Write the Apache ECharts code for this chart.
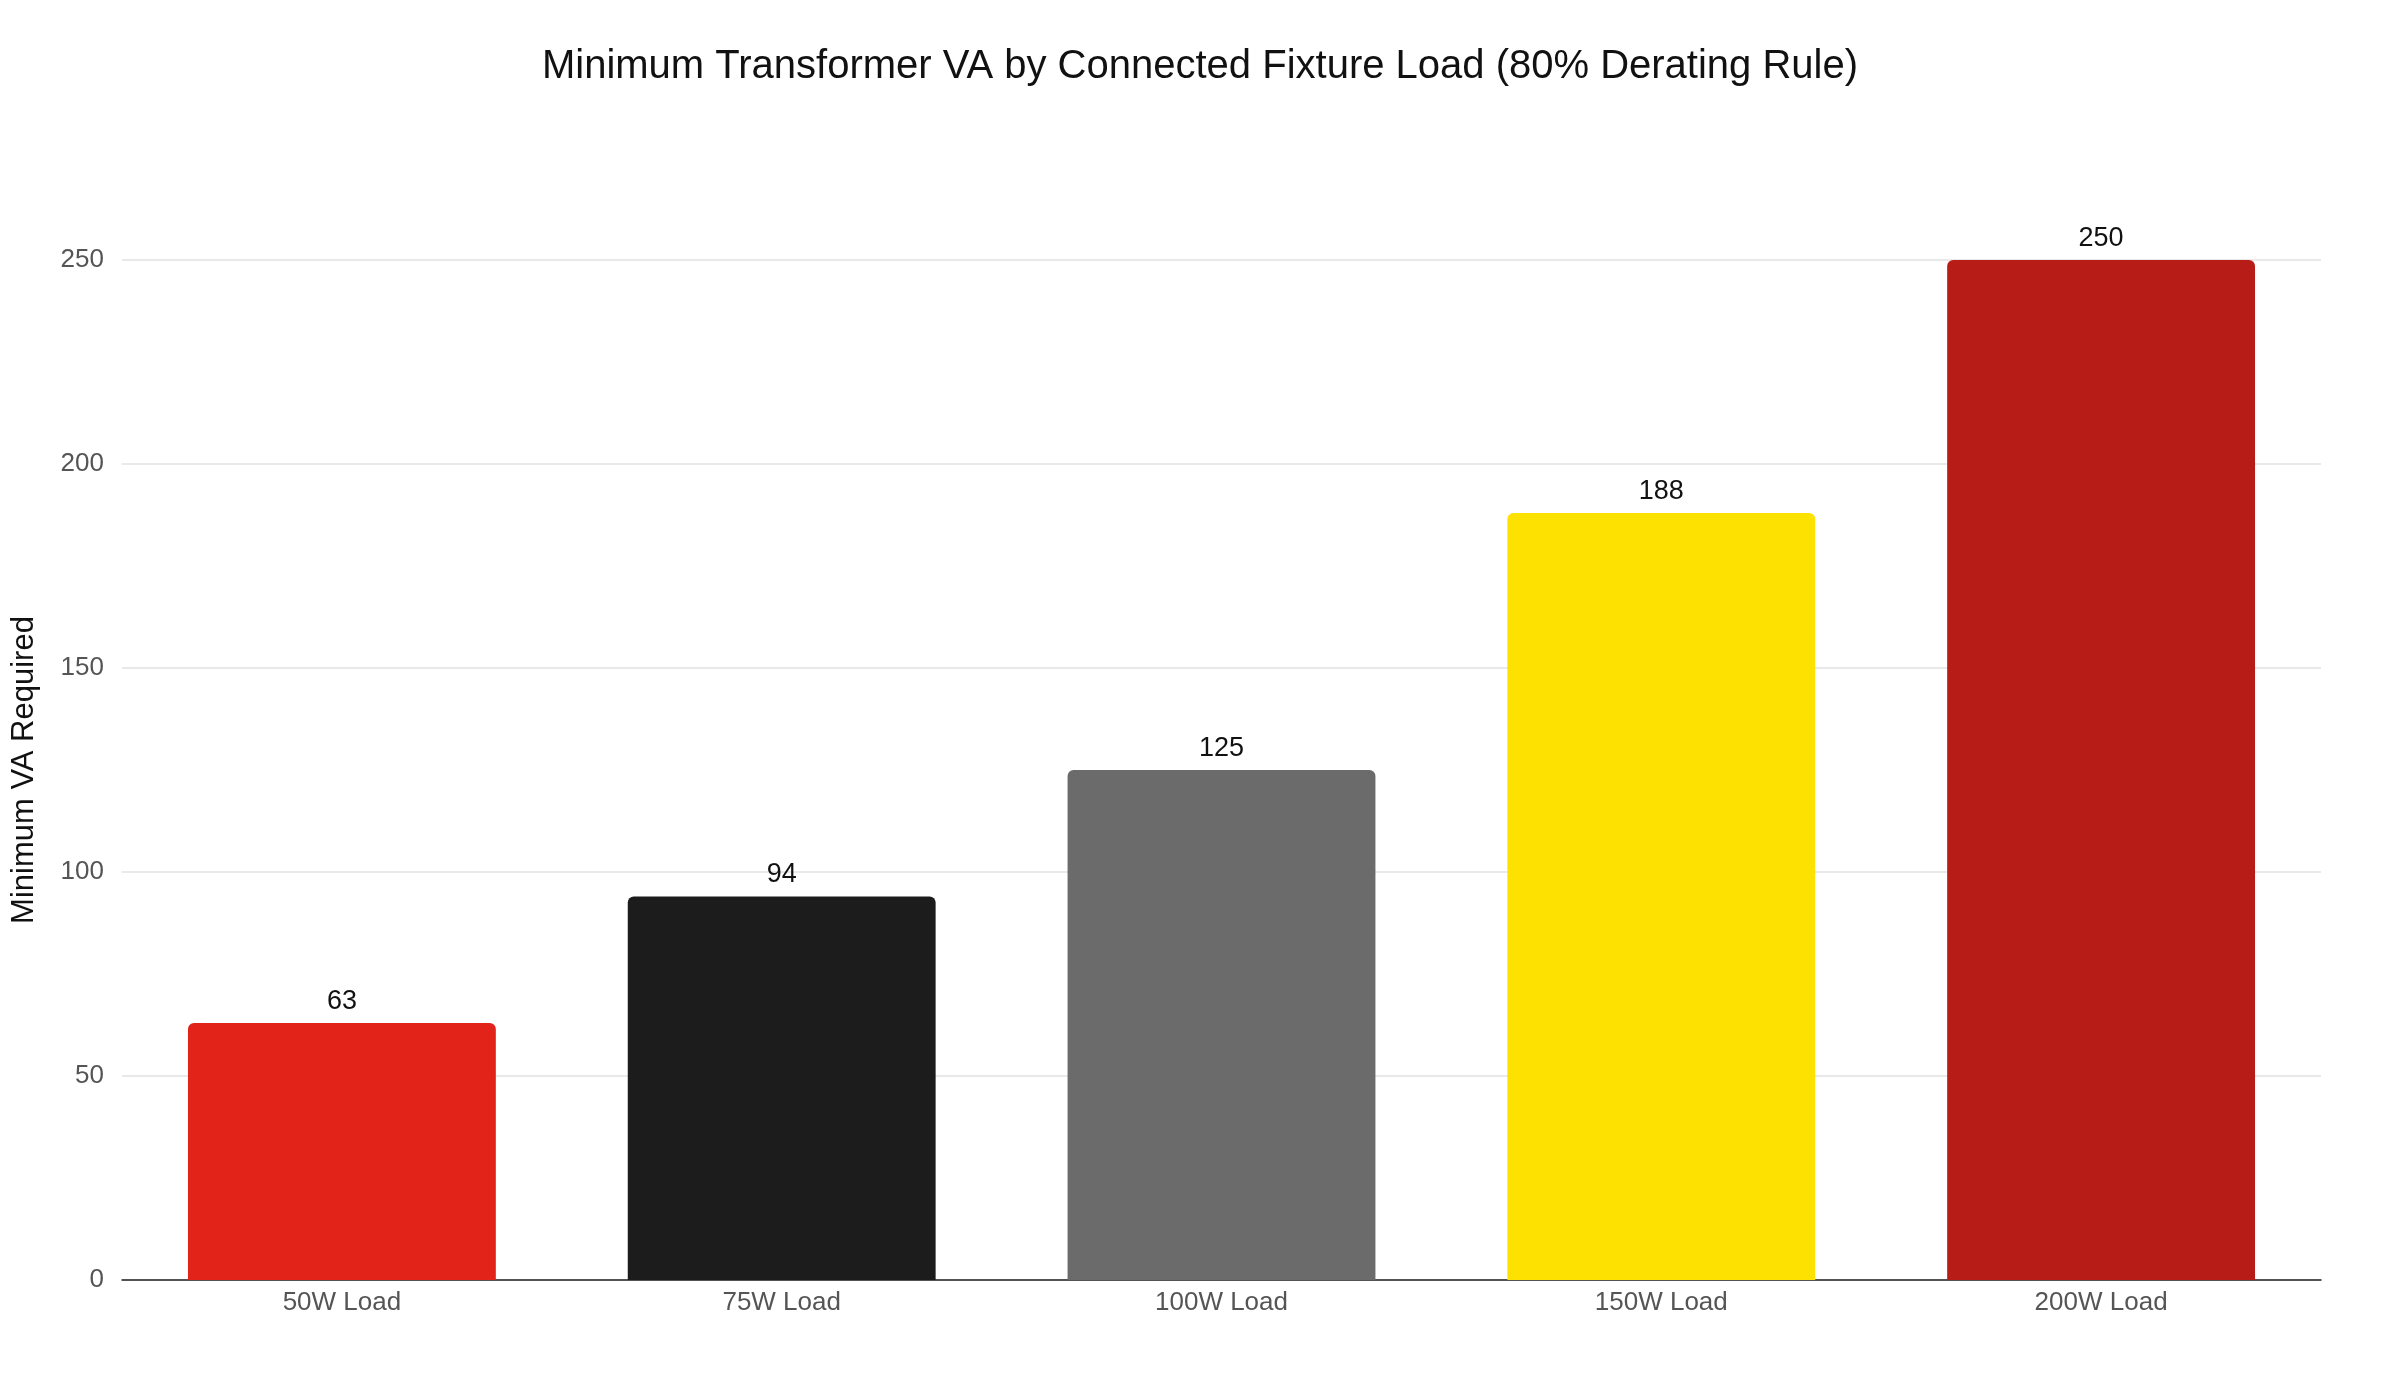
<!DOCTYPE html>
<html><head><meta charset="utf-8">
<script src="https://cdn.jsdelivr.net/npm/echarts@6/dist/echarts.min.js"></script>
<style>html,body{margin:0;padding:0;background:#fff}#c{width:2400px;height:1400px}</style>
</head><body><div id="c"></div>
<script>
const categories = ['50W Load','75W Load','100W Load','150W Load','200W Load'];
const values = [63, 94, 125, 188, 250];
const colors = ['#E2231A','#1C1C1C','#6B6B6B','#FDE100','#B71C17'];
const yTicks = [0, 50, 100, 150, 200, 250];
const chart = echarts.init(document.getElementById('c'));
const F = 'Liberation Sans, Helvetica, Arial, sans-serif';
chart.setOption({
  backgroundColor:'#fff',
  title:{text:'Minimum Transformer VA by Connected Fixture Load (80% Derating Rule)',left:'center',top:42,
    textStyle:{fontFamily:F,fontSize:40,fontWeight:'normal',color:'#111'}},
  grid:{left:122,right:79,top:260,bottom:120},
  xAxis:{type:'category',data:categories,
    axisLine:{lineStyle:{color:'#222',width:1.5}},axisTick:{show:false},
    axisLabel:{fontFamily:F,fontSize:26,color:'#555',margin:10}},
  yAxis:{type:'value',min:yTicks[0],max:yTicks[yTicks.length-1],interval:50,
    name:'Minimum VA Required',nameLocation:'middle',nameGap:82,
    nameTextStyle:{fontFamily:F,fontSize:31,color:'#111'},
    axisLine:{show:false},axisTick:{show:false},
    axisLabel:{fontFamily:F,fontSize:26,color:'#555',margin:18},
    splitLine:{lineStyle:{color:'#e2e2e2',width:1.5}}},
  series:[{type:'bar',barCategoryGap:'30%',
    data:values.map((v,i)=>({value:v,itemStyle:{color:colors[i]}})),
    itemStyle:{borderRadius:[6,6,0,0]},
    label:{show:true,position:'top',distance:8,fontFamily:F,fontSize:27,color:'#111'}}]
});
</script></body></html>
